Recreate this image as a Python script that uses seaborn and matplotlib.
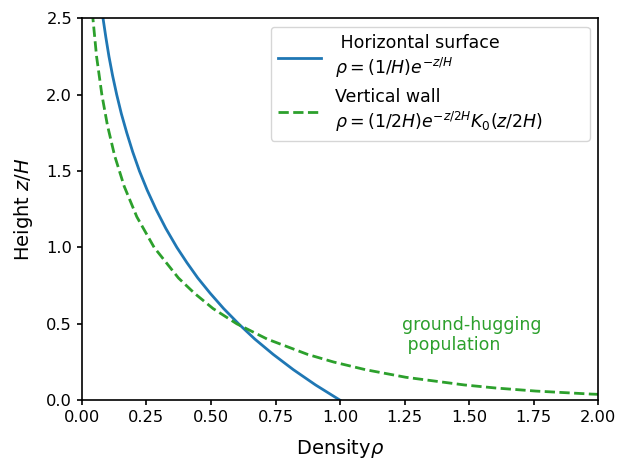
import numpy as np
import pandas as pd
import matplotlib
matplotlib.use("Agg")
import matplotlib.pyplot as plt
import seaborn as sns

# heights (z/H) and densities for each curve
z_horiz = [0.0, 0.1, 0.2, 0.3, 0.4, 0.5, 0.6, 0.7, 0.8, 0.9, 1.0, 1.125, 1.25, 1.375, 1.5,
           1.625, 1.75, 1.875, 2.0, 2.125, 2.25, 2.375, 2.5]
rho_horiz = [1.0, 0.905, 0.819, 0.741, 0.670, 0.607, 0.549, 0.497, 0.449, 0.407, 0.368, 0.325,
             0.287, 0.253, 0.223, 0.197, 0.174, 0.153, 0.135, 0.119, 0.105, 0.093, 0.082]

z_wall = [0.035, 0.04, 0.06, 0.08, 0.1, 0.15, 0.2, 0.25, 0.3, 0.4, 0.5, 0.6, 0.7, 0.8, 1.0,
          1.2, 1.4, 1.6, 1.8, 2.0, 2.25, 2.5]
rho_wall = [2.06, 1.974, 1.757, 1.602, 1.481, 1.255, 1.098, 0.975, 0.874, 0.718, 0.600, 0.508,
            0.436, 0.374, 0.280, 0.213, 0.164, 0.127, 0.099, 0.0775, 0.057, 0.0428]

label_horiz = " Horizontal surface\n$\\rho = (1/H)e^{-z/H}$"
label_wall = "Vertical wall\n$\\rho = (1/2H)e^{-z/2H}K_0(z/2H)$        "

df_h = pd.DataFrame({"rho": rho_horiz, "z": z_horiz})
df_w = pd.DataFrame({"rho": rho_wall, "z": z_wall})

fig, ax = plt.subplots(figsize=(6.2, 4.67), dpi=100)
fig.subplots_adjust(left=0.132, right=0.965, top=0.961, bottom=0.143)

sns.lineplot(data=df_h, x="rho", y="z", sort=False, color="#1f77b4", lw=2,
             label=label_horiz, ax=ax)
sns.lineplot(data=df_w, x="rho", y="z", sort=False, color="#2ca02c", lw=2,
             linestyle="--", label=label_wall, ax=ax)

ax.text(1.24, 0.30, "ground-hugging\n population", color="#2ca02c", fontsize=12.5,
        ha="left", va="bottom")

ax.set_xlim(0, 2)
ax.set_ylim(0, 2.5)
ax.set_xticks(np.arange(0, 2.01, 0.25))
ax.set_yticks(np.arange(0, 2.51, 0.5))
ax.set_xlabel("Density$\\rho$", fontsize=14, labelpad=9)
ax.set_ylabel("Height $z/H$", fontsize=14, labelpad=8)
ax.tick_params(labelsize=11.7, width=1.2)
for s in ax.spines.values():
    s.set_linewidth(1.2)
ax.legend(loc="upper right", fontsize=12.5, handlelength=2.5)

fig.savefig("out.png", dpi=100)
